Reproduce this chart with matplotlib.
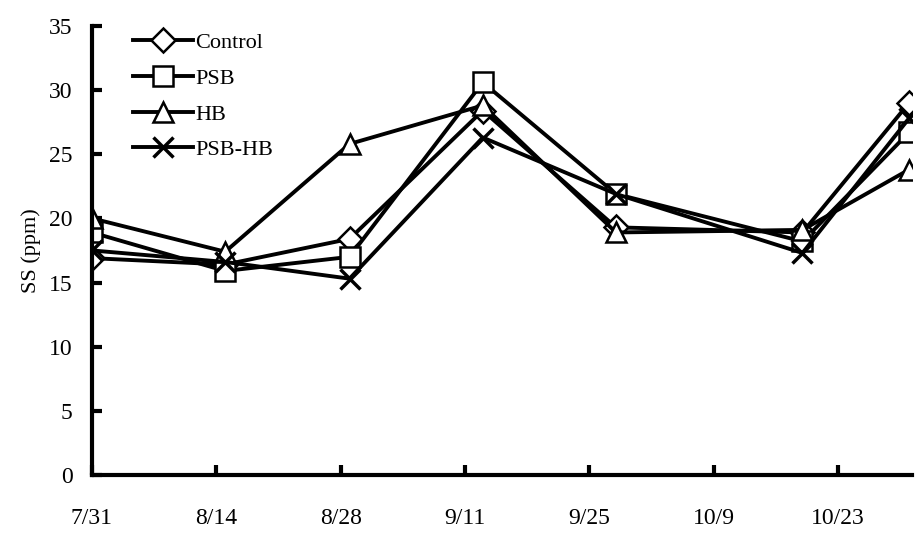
import matplotlib.pyplot as plt
import numpy as np

# sampling days, counted from 7/31
days = [0, 15, 29, 44, 59, 80, 92]

control = [16.9, 16.4, 18.4, 28.4, 19.3, 18.9, 29.0]
psb = [18.9, 15.9, 17.0, 30.6, 21.9, 18.2, 26.7]
hb = [20.0, 17.4, 25.8, 28.8, 18.9, 19.1, 23.8]
psb_hb = [17.5, 16.6, 15.3, 26.3, 21.9, 17.3, 27.8]

tick_days = [0, 14, 28, 42, 56, 70, 84]
tick_labels = ['7/31', '8/14', '8/28', '9/11', '9/25', '10/9', '10/23']

plt.rcParams['font.family'] = ['Liberation Serif', 'DejaVu Serif']

fig = plt.figure(figsize=(9.2, 5.51), dpi=100)
ax = fig.add_axes([0.1, 0.138, 0.891, 0.815])

lw = 2.8
ax.plot(days, control, color='black', lw=lw, marker='D', ms=12, mfc='white', mec='black', mew=1.8, label='Control')
ax.plot(days, psb, color='black', lw=lw, marker='s', ms=14, mfc='white', mec='black', mew=1.8, label='PSB')
ax.plot(days, hb, color='black', lw=lw, marker='^', ms=14, mfc='white', mec='black', mew=1.8, label='HB')
ax.plot(days, psb_hb, color='black', lw=lw, marker='x', ms=15, mec='black', mew=2.5, label='PSB-HB')

ax.set_xlim(0, 92.3)
ax.set_ylim(0, 35)
ax.set_yticks(np.arange(0, 36, 5))
ax.set_xticks(tick_days)
ax.set_xticklabels(tick_labels)

for s in ['top', 'right']:
    ax.spines[s].set_visible(False)
for s in ['left', 'bottom']:
    ax.spines[s].set_linewidth(3)

ax.tick_params(axis='both', direction='in', length=7, width=3, labelsize=17)
ax.tick_params(axis='x', pad=24)
ax.tick_params(axis='y', pad=14)

ax.set_ylabel('SS (ppm)', fontsize=16, labelpad=6)

ax.legend(loc='upper left', bbox_to_anchor=(0.05, 0.985), frameon=False,
          fontsize=16, handlelength=2.7, handletextpad=0.1,
          labelspacing=0.68, borderpad=0, borderaxespad=0)

plt.savefig('out.png', dpi=100)
